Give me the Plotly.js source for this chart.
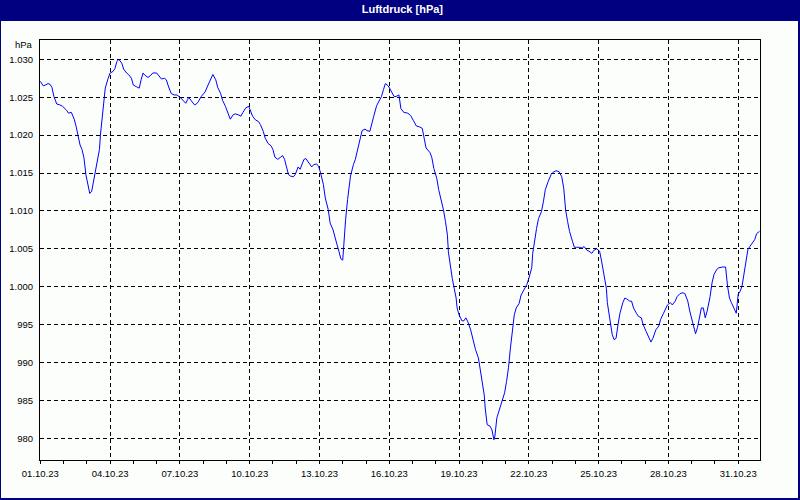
<!DOCTYPE html>
<html><head><meta charset="utf-8">
<script src="https://cdn.plot.ly/plotly-3.0.1.min.js"></script>
<style>html,body{margin:0;padding:0;background:#fcfefc;overflow:hidden;} #chart{width:800px;height:500px;}</style>
</head><body><div id="chart"></div>
<script>
const chartTitle = 'Luftdruck [hPa]';
const unitLabel = 'hPa';
// hours after 01.10.23 00:00
const hoursFromStart = [
0,3,5,8,10,12,14,17,20,23,27,29,32,35,37,39,41,43,45,47,49,51,53,56,58,61,62,64,66,67,70,72,75,77,79,81,84,86,89,91,94,96,99,102,104,106,108,111,114,116,120,122,125,128,130,132,135,138,141,145,147,150,152,153,156,159,161,163,166,170,173,176,178,181,183,186,
188,191,194,196,199,201,204,207,209,212,215,217,219,222,225,227,230,232,235,238,240,242,245,248,250,252,254,256,258,261,263,266,268,270,272,274,277,280,282,285,287,289,292,294,297,299,302,304,306,308,310,312,313,315,317,320,323,325,327,330,332,335,337,340,342,344,347,349,352,354,356,359,361,365,367,370,
372,375,379,382,385,388,391,394,396,398,402,404,406,409,411,414,416,418,420,421,423,425,427,429,430,432,435,437,439,441,444,446,449,452,453,456,458,459,461,464,466,468,469,471,474,476,479,481,483,485,487,489,491,494,496,499,502,504,507,508,510,512,514,517,519,521,524,527,529,532,535,538,540,542,544,546,549,551,553,556,
559,561,564,566,569,571,574,577,579,581,584,585,588,590,592,594,596,598,601,603,605,608,610,612,615,617,620,622,625,628,630,632,635,638,640,643,645,647,650,652,655,657,660,663,665,668,670,672,675,676,678,680,682,684,686,688,691,693,695,698,700,704,707,709,711,713,716,718,720,722,724,726,728,730,732,734,737,739,741,742
];
const pressure = [
1027.1,1026.5,1026.6,1026.8,1026.7,1026.3,1025.1,1024.1,1024.0,1023.8,1023.3,1022.9,1023.0,1022.1,1021.1,1019.8,1018.7,1018.1,1017.0,1014.8,1013.5,1012.3,1012.6,1014.6,1015.7,1018.1,1020.0,1022.5,1024.4,1026.2,1027.5,1028.2,1028.4,1028.8,1029.7,1030.0,1029.5,1028.7,1028.2,1028.0,1027.5,1026.6,1026.4,1026.2,1027.3,1028.2,1027.9,1027.6,1027.9,1028.2,1028.2,1027.9,1027.4,1027.5,1027.3,1026.5,1025.5,1025.3,1025.3,1024.9,1024.6,1024.2,1024.7,1025.0,1024.5,1024.0,1024.1,1024.4,1025.1,1025.7,1026.6,1027.5,1028.0,1027.3,1026.3,1025.5,
1024.6,1023.8,1022.7,1022.1,1022.7,1022.8,1022.7,1022.5,1023.0,1023.6,1023.8,1023.1,1022.5,1022.0,1021.8,1021.4,1020.5,1019.6,1018.9,1018.6,1018.1,1017.1,1016.8,1017.1,1017.3,1016.8,1015.9,1014.8,1014.6,1014.5,1014.8,1015.8,1015.5,1016.1,1016.8,1016.9,1016.3,1015.8,1016.1,1016.2,1015.9,1015.1,1013.5,1011.7,1010.2,1008.4,1007.5,1006.7,1005.6,1004.7,1003.7,1003.5,1005.4,1008.9,1011.5,1014.6,1016.1,1016.8,1017.9,1019.4,1020.6,1020.8,1020.6,1020.5,1021.6,1022.5,1023.9,1024.4,1025.1,1026.0,1026.8,1026.5,1026.0,1025.1,1025.1,1025.3,
1023.5,1023.0,1022.9,1022.6,1021.9,1021.2,1021.1,1020.9,1019.6,1018.3,1017.7,1017.0,1015.6,1014.3,1012.8,1011.2,1010.1,1008.6,1006.8,1004.6,1002.7,1001.1,999.8,998.5,997.2,996.3,995.5,995.5,995.9,995.4,994.3,993.2,991.7,990.6,989.7,987.5,985.7,984.0,981.8,981.6,981.1,979.8,980.3,982.7,984.0,984.9,986.0,987.5,989.3,991.9,994.5,996.3,997.2,997.8,998.9,999.6,1000.3,1001.1,1002.5,1004.4,1006.4,1007.7,1009.0,1009.9,1011.2,1012.8,1013.9,1014.8,1015.1,1015.3,1015.2,1014.5,1013.0,1010.1,1008.6,1007.3,1006.0,1005.2,1005.2,1005.2,
1005.1,1005.3,1004.8,1004.7,1004.4,1004.8,1005.0,1004.7,1003.4,1001.8,999.8,997.9,995.2,993.7,993.0,993.2,995.0,996.5,997.9,998.5,998.4,998.1,998.1,997.2,996.5,996.1,995.9,995.0,994.1,993.2,992.7,993.2,994.3,994.8,995.7,996.5,997.1,997.6,997.9,997.6,998.1,998.7,999.1,999.2,999.1,998.1,996.8,995.7,994.1,993.8,994.6,995.9,997.2,997.2,995.9,996.8,998.7,1000.5,1001.6,1002.3,1002.5,1002.6,1002.6,1000.1,998.5,997.9,997.0,996.5,999.0,999.4,1000.1,1001.8,1003.4,1004.9,1005.3,1005.6,1006.2,1007.0,1007.3,1007.3
];
const yTickVals = [980,985,990,995,1000,1005,1010,1015,1020,1025,1030];
const xRange = ['2023-09-30 23:40','2023-10-31 22:30'];
const yRange = [977.14, 1032.55];

function pad(n){return (n<10?'0':'')+n;}
function hourToDate(h){
  const d = new Date(Date.UTC(2023,9,1) + h*3600000);
  return d.getUTCFullYear()+'-'+pad(d.getUTCMonth()+1)+'-'+pad(d.getUTCDate())+' '+pad(d.getUTCHours())+':'+pad(d.getUTCMinutes());
}
const times = hoursFromStart.map(hourToDate);

const W=800,H=500,L=40,R=40,T=40,B=40;
const pw=W-L-R, ph=H-T-B;
const px = x => (x-L)/pw;
const py = y => (H-B-y)/ph;
const navy = '#000080';
const font = {family:'Liberation Sans, Arial, sans-serif', size:9.5, color:'#000'};

const trace = {x:times, y:pressure, type:'scatter', mode:'lines', line:{color:'#0000ff', width:1}, hoverinfo:'skip'};

const layout = {
  width:W, height:H,
  margin:{l:L,r:R,t:T,b:B,pad:0},
  paper_bgcolor:'#fcfefc', plot_bgcolor:'#fcfefc',
  separators:',.',
  showlegend:false,
  font:font,
  title:{text:'<b>'+chartTitle+'</b>', font:{family:'Liberation Sans, Arial, sans-serif', size:11, color:'#ffffff'}, xref:'container', yref:'container', x:0.503, y:1-9.5/H, xanchor:'center', yanchor:'middle'},
  xaxis:{
    type:'date', range:xRange, tick0:'2023-10-01', dtick:3*86400000, tickformat:'%d.%m.%y',
    ticks:'outside', ticklen:3, tickcolor:'#000', tickwidth:1,
    showgrid:true, gridcolor:'#000', gridwidth:1, griddash:'4px,3px',
    showline:true, linecolor:'#000', linewidth:1, mirror:true, zeroline:false,
    tickfont:font, ticklabelstandoff:2,
    minor:{dtick:86400000, ticks:'outside', ticklen:3, tickcolor:'#000', tickwidth:1, showgrid:false}
  },
  yaxis:{
    range:yRange, tickvals:yTickVals, tickformat:',d',
    ticks:'', showgrid:true, gridcolor:'#000', gridwidth:1, griddash:'4px,3px',
    showline:true, linecolor:'#000', linewidth:1, mirror:true, zeroline:false,
    tickfont:font, ticklabelstandoff:4
  },
  shapes:[
    {type:'rect', xref:'paper', yref:'paper', x0:px(-1), x1:px(801), y0:py(20.5), y1:py(-1), fillcolor:navy, line:{width:0}, layer:'above'},
    {type:'rect', xref:'paper', yref:'paper', x0:px(0), x1:px(799), y0:py(499), y1:py(20), fillcolor:'rgba(0,0,0,0)', line:{color:navy, width:2}, layer:'above'}
  ],
  annotations:[
    {text:unitLabel, xref:'paper', yref:'paper', x:0, y:1, xanchor:'right', yanchor:'middle', xshift:-5, yshift:-4.5, showarrow:false, font:font}
  ]
};
Plotly.newPlot('chart',[trace],layout,{staticPlot:true,displayModeBar:false});
</script></body></html>
